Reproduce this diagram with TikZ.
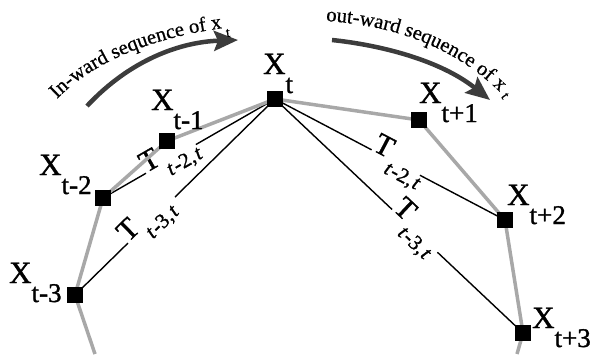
\documentclass[tikz,border=0pt]{standalone}
\usepackage{fontspec}
\setmainfont{Liberation Serif}
\newfontface\heavyserif{Liberation Serif}[FakeBold=1.2]
\newfontface\heavyital{Liberation Serif Italic}[FakeBold=1.2]
\newfontface\midserif{Liberation Serif}[FakeBold=0.6]
\usetikzlibrary{arrows.meta,decorations.text}
\definecolor{arrowgray}{HTML}{3C3C3C}
\definecolor{chaingray}{HTML}{A8A8A8}
\newcommand\xsub[1]{X\raisebox{-19pt}{\fontsize{27}{27}\selectfont #1}}
\newcommand\tsub[1]{T\hspace{2pt}\raisebox{-15pt}{\fontsize{21}{21}\selectfont{\heavyital t}\kern1.5pt-#1,\kern1.5pt{\heavyital t}}}
\begin{document}
\begin{tikzpicture}[x=1pt,y=-1pt,
  sq/.style={fill=black,minimum size=16pt,inner sep=0pt,draw=none},
  chain/.style={draw=chaingray,line width=3.5pt,line join=round},
  tie/.style={draw=black,line width=1.4pt},
  xlab/.style={anchor=base west,inner sep=0pt,font=\heavyserif\fontsize{31}{31}\selectfont},
  tlab/.style={sloped,anchor=base west,inner sep=0pt,font=\heavyserif\fontsize{30}{30}\selectfont},
  flow/.style={draw=arrowgray,line width=4.5pt,-{Stealth[length=24pt,width=20pt,inset=4pt]}},
  arcsub/.style={inner sep=0pt,font=\midserif\fontsize{14}{14}\selectfont}
]
\useasboundingbox (0,0) rectangle (593,354);

% points of the sequence
\coordinate (bl) at (95,354);
\coordinate (br) at (517,354);
\node[sq] (xm3) at (75,295) {};
\node[sq] (xm2) at (103,198) {};
\node[sq] (xm1) at (167,141) {};
\node[sq] (x0)  at (275,99) {};
\node[sq] (xp1) at (419,120) {};
\node[sq] (xp2) at (505,220) {};
\node[sq] (xp3) at (523,333) {};

% connectors from x_t, broken where the labels sit
\path (xm2.center) -- coordinate[pos=0.25] (a1) coordinate[pos=0.54] (a2)
      node[tlab,pos=0.25] (lab1) {\tsub{2}} (x0.center);
\path (xm3.center) -- coordinate[pos=0.265] (b1) coordinate[pos=0.50] (b2)
      node[tlab,pos=0.265] (lab2) {\tsub{3}} (x0.center);
\path (x0.center) -- coordinate[pos=0.42] (c1) coordinate[pos=0.63] (c2)
      node[tlab,pos=0.42] (lab3) {\tsub{2}} (xp2.center);
\path (x0.center) -- coordinate[pos=0.472] (d1) coordinate[pos=0.655] (d2)
      node[tlab,pos=0.472] (lab4) {\tsub{3}} (xp3.center);
\draw[tie] (xm2.center) -- (a1);
\draw[tie] (a2) -- (x0.center);
\draw[tie] (xm3.center) -- (b1);
\draw[tie] (b2) -- (x0.center);
\draw[tie] (x0.center) -- (c1);
\draw[tie] (c2) -- (xp2.center);
\draw[tie] (x0.center) -- (d1);
\draw[tie] (d2) -- (xp3.center);

% the sequence itself
\draw[chain] (bl) -- (xm3.center) -- (xm2.center) -- (xm1.center) -- (x0.center)
  -- (xp1.center) -- (xp2.center) -- (xp3.center) -- (br);

% squares on top
\foreach \n in {xm3,xm2,xm1,x0,xp1,xp2,xp3}
  \fill (\n.south west) rectangle (\n.north east);

% point labels
\node[xlab] (lx0)  at (263,74)  {\xsub{t}};
\node[xlab] (lxm1) at (151,110) {\xsub{t-1}};
\node[xlab] (lxm2) at (39,175)  {\xsub{t-2}};
\node[xlab] (lxm3) at (9,283)   {\xsub{t-3}};
\node[xlab] (lxp1) at (419,103) {\xsub{t+1}};
\node[xlab] (lxp2) at (507,205) {\xsub{t+2}};
\node[xlab] (lxp3) at (532,328) {\xsub{t+3}};

% direction arrows
\coordinate (ia) at (87,106);
\coordinate (ib) at (238,40);
\coordinate (oa) at (332,40);
\coordinate (ob) at (490,100);
\draw[flow] (ia) .. controls (130,60) and (180,42) .. (ib);
\draw[flow] (oa) .. controls (380,45) and (440,60) .. (ob);

% captions along the arrows
\path[decorate,decoration={text along path,
  text={|\midserif\fontsize{20.5}{20.5}\selectfont|In-ward sequence of x}}]
  (57,99) .. controls (95,60) and (160,33) .. (250,25);
\node[arcsub,rotate=8] (si) at (228,33) {t};
\path[decorate,decoration={text along path,
  text={|\midserif\fontsize{20.5}{20.5}\selectfont|out-ward sequence of x}}]
  (326,21) .. controls (385,25) and (458,42) .. (515,108);
\node[arcsub,rotate=-55] (so) at (505,96) {t};
\end{tikzpicture}
\end{document}
